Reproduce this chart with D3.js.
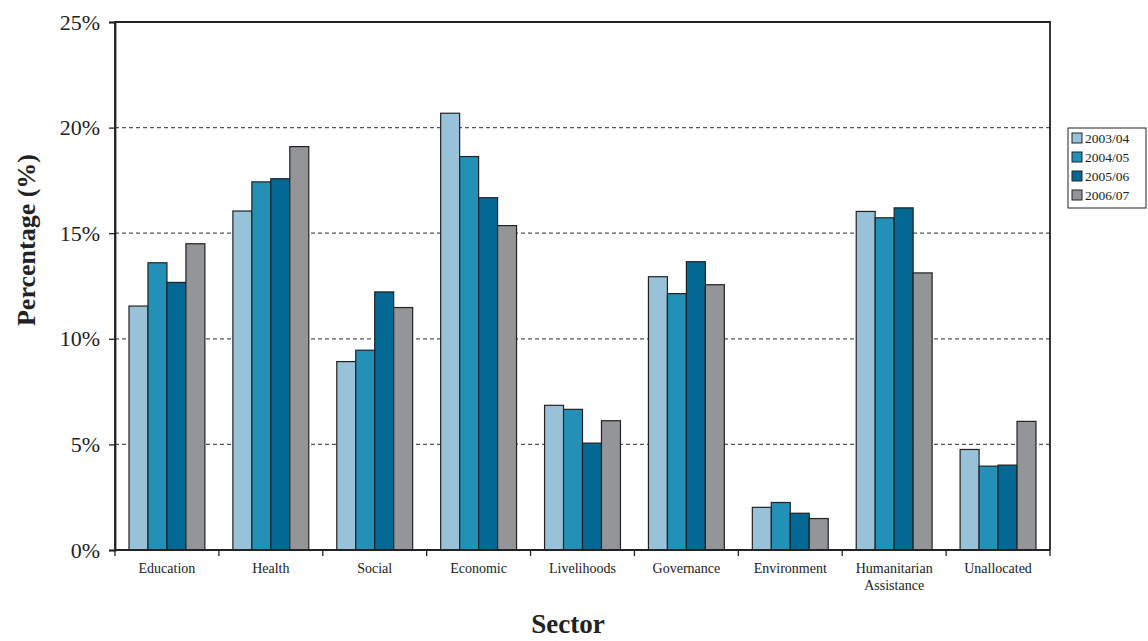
<!DOCTYPE html>
<html>
<head>
<meta charset="utf-8">
<script src="https://cdn.jsdelivr.net/npm/d3@7"></script>
<style>
  html, body { margin: 0; padding: 0; background: #fff; }
  svg { display: block; }
  svg text { font-family: "Liberation Serif", "DejaVu Serif", serif !important; fill: #222; }
</style>
</head>
<body>
<svg id="chart" width="1148" height="641"></svg>
<script>
// Share of spending by sector, per financial year (%)
const sectors = ["Education", "Health", "Social", "Economic", "Livelihoods",
                 "Governance", "Environment", "Humanitarian Assistance", "Unallocated"];
const years = ["2003/04", "2004/05", "2005/06", "2006/07"];
const v2003 = [11.55, 16.05, 8.92, 20.68, 6.85, 12.94, 2.02, 16.03, 4.76];
const v2004 = [13.60, 17.43, 9.46, 18.63, 6.66, 12.14, 2.25, 15.73, 3.97];
const v2005 = [12.67, 17.58, 12.22, 16.68, 5.06, 13.65, 1.74, 16.20, 4.02];
const v2006 = [14.50, 19.10, 11.48, 15.36, 6.12, 12.56, 1.49, 13.12, 6.09];
const yTicks = [0, 5, 10, 15, 20, 25];
const colors = ["#97c2d9", "#2290b7", "#036894", "#939598"];
const FONT = "'Liberation Serif', 'DejaVu Serif', serif";

const seriesValues = [v2003, v2004, v2005, v2006];
const rows = sectors.map((s, i) => ({
  sector: s,
  values: years.map((y, k) => ({ year: y, value: seriesValues[k][i] }))
}));

const svg = d3.select("#chart");
const m = { left: 115, right: 1050, top: 22, bottom: 550 };

const x = d3.scaleBand().domain(sectors).range([m.left, m.right]).paddingInner(0).paddingOuter(0);
const inner = d3.scaleBand().domain(years).range([14, x.bandwidth() - 14]).padding(0);
const y = d3.scaleLinear().domain([0, 25]).range([m.bottom, m.top]);

// dashed gridlines
svg.append("g")
  .selectAll("line")
  .data(yTicks.filter(t => t > 0 && t < 25))
  .join("line")
  .attr("x1", m.left).attr("x2", m.right)
  .attr("y1", d => y(d)).attr("y2", d => y(d))
  .attr("stroke", "#555").attr("stroke-width", 1.3)
  .attr("stroke-dasharray", "4,3");

// bars
const groups = svg.append("g").selectAll("g")
  .data(rows).join("g")
  .attr("transform", d => `translate(${x(d.sector)},0)`);
groups.selectAll("rect")
  .data(d => d.values).join("rect")
  .attr("x", d => inner(d.year))
  .attr("y", d => y(d.value))
  .attr("width", inner.bandwidth())
  .attr("height", d => y(0) - y(d.value))
  .attr("fill", (d, i) => colors[i])
  .attr("stroke", "#222").attr("stroke-width", 1.2);

// plot frame
svg.append("path")
  .attr("d", `M${m.left},${m.bottom}V${m.top}H${m.right}V${m.bottom}`)
  .attr("fill", "none").attr("stroke", "#222").attr("stroke-width", 1.8);

// y axis
const yAxis = d3.axisLeft(y).tickValues(yTicks).tickFormat(d => d + "%").tickSize(6).tickPadding(9);
const gy = svg.append("g").attr("transform", `translate(${m.left},0)`).call(yAxis)
  .attr("font-family", FONT);
gy.select(".domain").attr("stroke", "#222").attr("stroke-width", 1.8);
gy.selectAll(".tick line").attr("stroke", "#222").attr("stroke-width", 1.3);
gy.selectAll(".tick text")
  .attr("font-family", FONT)
  .attr("font-size", 22).attr("fill", "#222");

// x axis: ticks at category boundaries
const bounds = sectors.map(s => x(s)).concat([m.right]);
svg.append("g").selectAll("line").data(bounds).join("line")
  .attr("x1", d => d).attr("x2", d => d)
  .attr("y1", m.bottom).attr("y2", m.bottom + 6)
  .attr("stroke", "#222").attr("stroke-width", 1.3);
svg.append("line")
  .attr("x1", m.left).attr("x2", m.right)
  .attr("y1", m.bottom).attr("y2", m.bottom)
  .attr("stroke", "#222").attr("stroke-width", 2.2);

// category labels (two words wrap onto two lines)
const labels = svg.append("g").selectAll("text").data(sectors).join("text")
  .attr("x", d => x(d) + x.bandwidth() / 2)
  .attr("y", 573)
  .attr("text-anchor", "middle")
  .attr("font-family", FONT)
  .attr("font-size", 14);
labels.each(function (d) {
  const words = d.split(" ");
  const t = d3.select(this);
  words.forEach((w, i) => {
    t.append("tspan").attr("x", x(d) + x.bandwidth() / 2).attr("dy", i === 0 ? 0 : 17).text(w);
  });
});

// axis titles
svg.append("text")
  .attr("transform", "translate(35,240) rotate(-90)")
  .attr("text-anchor", "middle")
  .attr("font-family", FONT)
  .attr("font-size", 26).attr("font-weight", "bold")
  .text("Percentage  (%)");
svg.append("text")
  .attr("x", 568).attr("y", 633)
  .attr("text-anchor", "middle")
  .attr("font-family", FONT)
  .attr("font-size", 27).attr("font-weight", "bold")
  .text("Sector");

// legend
const lg = svg.append("g").attr("transform", "translate(1068,128)");
lg.append("rect").attr("width", 78).attr("height", 80)
  .attr("fill", "#fff").attr("stroke", "#222").attr("stroke-width", 1);
const items = lg.selectAll("g").data(years).join("g")
  .attr("transform", (d, i) => `translate(4,${10 + i * 19})`);
items.append("rect").attr("y", -5).attr("width", 10).attr("height", 10)
  .attr("fill", (d, i) => colors[i]).attr("stroke", "#222").attr("stroke-width", 1);
items.append("text").attr("x", 13).attr("y", 4.5)
  .attr("font-family", FONT)
  .attr("font-size", 13.5).text(d => d);
</script>
</body>
</html>
